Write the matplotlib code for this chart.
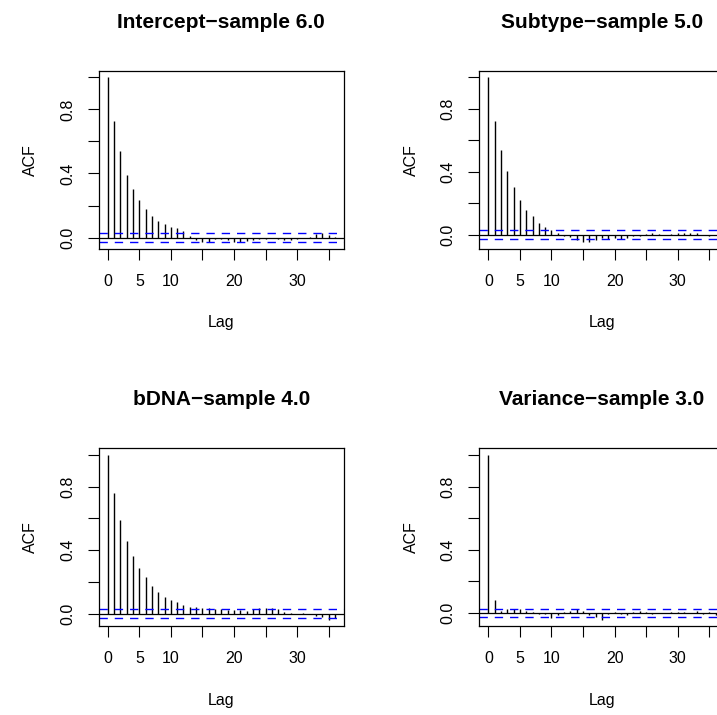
import numpy as np
import matplotlib
matplotlib.use("Agg")
import matplotlib.pyplot as plt

plt.rcParams['font.family'] = ['Liberation Sans', 'DejaVu Sans']

# autocorrelations, lags 0..36
lags = np.arange(0, 37)
titles = ["Intercept\u2212sample 6.0", "Subtype\u2212sample 5.0",
          "bDNA\u2212sample 4.0", "Variance\u2212sample 3.0"]
intercept = [1.0, 0.729, 0.538, 0.393, 0.302, 0.232, 0.176, 0.135, 0.101, 0.083,
             0.064, 0.058, 0.039, 0.012, -0.015, -0.025, -0.025, -0.010, -0.008, -0.017,
             -0.025, -0.025, -0.021, -0.015, -0.008, -0.006, -0.002, -0.010, -0.015, -0.017,
             -0.006, -0.002, 0.006, 0.023, 0.027, 0.017, 0.006]
subtype = [1.0, 0.724, 0.536, 0.403, 0.300, 0.217, 0.156, 0.118, 0.074, 0.051,
           0.030, 0.008, -0.008, -0.018, -0.036, -0.048, -0.046, -0.036, -0.025, -0.030,
           -0.025, -0.027, -0.019, -0.010, -0.006, 0.004, 0.008, 0.004, 0.000, 0.004,
           0.008, 0.013, 0.008, 0.013, -0.002, -0.008, -0.005]
bdna = [1.0, 0.760, 0.591, 0.459, 0.363, 0.286, 0.230, 0.175, 0.134, 0.104,
        0.088, 0.073, 0.054, 0.042, 0.040, 0.035, 0.033, 0.029, 0.029, 0.025,
        0.021, 0.021, 0.019, 0.029, 0.033, 0.033, 0.033, 0.029, 0.013, 0.004,
        0.000, 0.002, -0.004, -0.017, -0.023, -0.038, -0.027]
variance = [1.0, 0.082, 0.010, 0.025, 0.025, 0.025, 0.015, 0.006, -0.004, -0.004,
            -0.031, -0.010, 0.008, 0.015, 0.025, 0.013, -0.010, -0.025, -0.042, -0.006,
            0.004, -0.004, -0.010, 0.006, 0.015, 0.006, -0.004, 0.002, 0.000, 0.004,
            0.006, 0.004, 0.000, 0.012, -0.004, 0.004, -0.010]
ci = 0.028  # 95% white noise band
xticks = [0, 5, 10, 15, 20, 25, 30, 35]
xticklabels = ["0", "5", "10", "", "20", "", "30", ""]
yticks = [0.0, 0.2, 0.4, 0.6, 0.8, 1.0]
yticklabels = ["0.0", "", "0.4", "", "0.8", ""]

series = [intercept, subtype, bdna, variance]

W, H = 717, 715
# panel boxes in pixels (left, top), R-style 2x2 layout, right column runs off the page
boxes = [(98.7, 70.7), (479.3, 70.7), (98.7, 448.3), (479.3, 448.3)]
bw, bh = 245.3, 178.0

fig = plt.figure(figsize=(W / 100, H / 100), dpi=100)
fs = 11.5

for (bx, by), vals, title in zip(boxes, series, titles):
    ax = fig.add_axes([bx / W, 1 - (by + bh) / H, bw / W, bh / H])
    ax.vlines(lags, 0, vals, color='black', lw=1.0)
    ax.axhline(0, color='black', lw=0.9)
    for c in (ci, -ci):
        ax.axhline(c, color='#0000FF', lw=1.0, dashes=(6, 5))

    # R style 4% padding
    lo = min(min(vals), -ci)
    hi = max(max(vals), ci)
    ax.set_ylim(lo - 0.04 * (hi - lo), hi + 0.04 * (hi - lo))
    ax.set_xlim(-0.04 * 36, 36 * 1.04)

    ax.set_xticks(xticks)
    ax.set_xticklabels(xticklabels, fontsize=fs)
    ax.set_yticks(yticks)
    ax.set_yticklabels(yticklabels, fontsize=fs, rotation=90, va='center')
    ax.tick_params(length=7.9, width=0.8, pad=10)
    ax.tick_params(axis='y', pad=9)
    for s in ax.spines.values():
        s.set_linewidth(0.9)

    ax.set_xlabel("Lag", fontsize=fs, labelpad=19)
    ax.set_ylabel("ACF", fontsize=fs, labelpad=16)
    ax.set_title(title, fontsize=15, fontweight='bold', pad=31)

fig.savefig("out.png", dpi=100)
